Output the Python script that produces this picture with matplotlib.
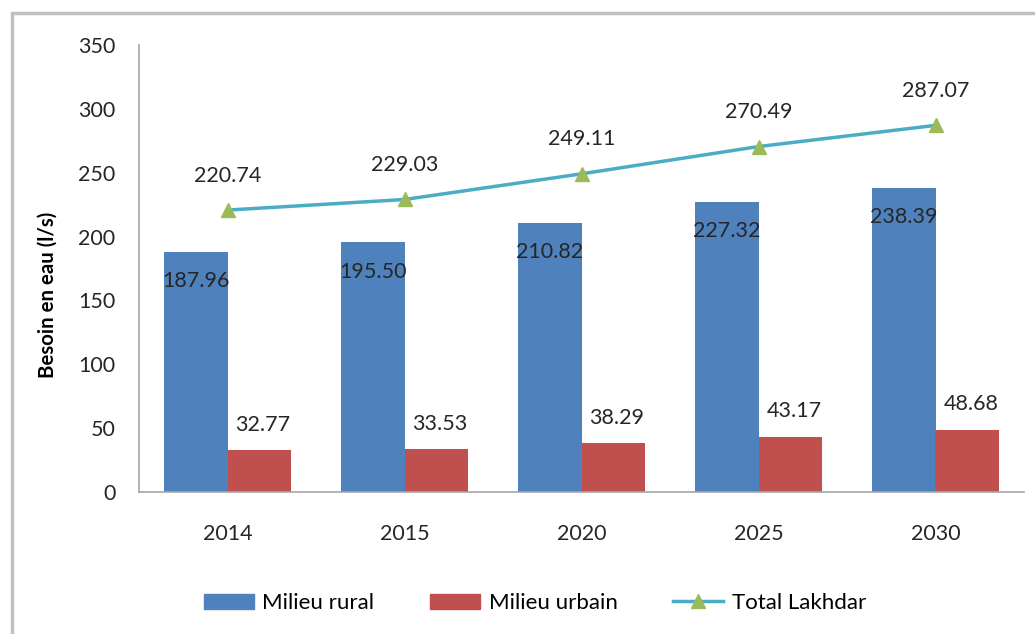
import matplotlib.pyplot as plt
import numpy as np
from matplotlib.patches import Rectangle
from matplotlib.lines import Line2D

plt.rcParams['font.family'] = ['Lato', 'DejaVu Sans']

years = ["2014", "2015", "2020", "2025", "2030"]
rural = [187.96, 195.50, 210.82, 227.32, 238.39]
urbain = [32.77, 33.53, 38.29, 43.17, 48.68]
total = [220.74, 229.03, 249.11, 270.49, 287.07]

blue = "#4F81BD"
red = "#C0504D"
cyan = "#4BACC6"
green = "#9BBB59"

fig = plt.figure(figsize=(10.35, 6.34), dpi=100)
# outer chart frame (only top and left edges visible in the crop)
fig.patches.append(Rectangle((12 / 1035, -0.1), 1.2, (634 - 13) / 634 + 0.1,
                             transform=fig.transFigure, fill=False,
                             edgecolor="#BFBFBF", linewidth=2.5))

ax = fig.add_axes([139 / 1035, 1 - 492 / 634, (1024 - 139) / 1035, (492 - 45) / 634])

x = np.arange(len(years))
w = 0.36
ax.bar(x - w / 2, rural, w, color=blue, label="Milieu rural")
ax.bar(x + w / 2, urbain, w, color=red, label="Milieu urbain")
ax.plot(x, total, color=cyan, linewidth=2.5, marker="^", markersize=10,
        markerfacecolor=green, markeredgecolor=green, label="Total Lakhdar")

lab_kw = dict(ha="center", fontsize=15.5, color="#262626")
for i in range(len(years)):
    ax.text(x[i] - w / 2, rural[i] - 23, f"{rural[i]:.2f}", va="center", **lab_kw)
    ax.text(x[i] + w / 2 + 0.02, urbain[i] + 20, f"{urbain[i]:.2f}", va="center", **lab_kw)
    ax.text(x[i], total[i] + 27, f"{total[i]:.2f}", va="center", **lab_kw)

ax.set_xlim(-0.5, len(years) - 0.5)
ax.set_ylim(0, 350)
ax.set_yticks(range(0, 351, 50))
ax.set_xticks(x)
ax.set_xticklabels(years)
ax.tick_params(length=0, labelsize=15.5, colors="#262626")
ax.tick_params(axis="x", pad=23)
ax.tick_params(axis="y", pad=17)
for s in ["top", "right"]:
    ax.spines[s].set_visible(False)
for s in ["left", "bottom"]:
    ax.spines[s].set_color("#A6A6A6")
    ax.spines[s].set_linewidth(1.2)

ax.set_ylabel("Besoin en eau (l/s)", fontsize=14.7, fontweight="bold")
ax.yaxis.set_label_coords(-0.0915, 0.441)

handles = [Rectangle((0, 0), 1, 1, color=blue),
           Rectangle((0, 0), 1, 1, color=red),
           Line2D([0], [0], color=cyan, linewidth=2.5, marker="^", markersize=10,
                  markerfacecolor=green, markeredgecolor=green)]
fig.legend(handles, ["Milieu rural", "Milieu urbain", "Total Lakhdar"],
           loc="center", bbox_to_anchor=(535 / 1035, 1 - 603 / 634), ncol=3,
           frameon=False, fontsize=16, handlelength=2.25, handleheight=0.68,
           columnspacing=2.5, handletextpad=0.4)

fig.savefig("out.png", dpi=100)
